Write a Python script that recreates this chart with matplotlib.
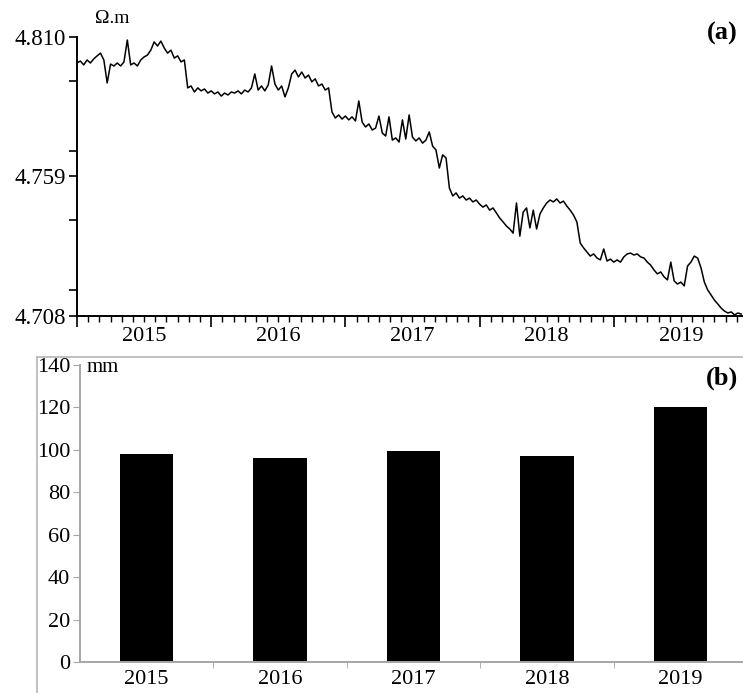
import numpy as np
import matplotlib.pyplot as plt
from matplotlib.lines import Line2D
from matplotlib.ticker import MultipleLocator
import matplotlib.transforms as mtransforms

plt.rcParams['font.family'] = ['Liberation Serif', 'DejaVu Serif']

# (a) apparent resistivity, sampled roughly every 0.025 yr from 2015.0
t_start = 2015.0
t_step = 0.025
resistivity = [
    4.8005, 4.8012, 4.7998, 4.8016, 4.8005, 4.8020, 4.8031, 4.8041, 4.8016, 4.7932,
    4.8001, 4.7994, 4.8005, 4.7994, 4.8009, 4.8089, 4.7998, 4.8005, 4.7994, 4.8016,
    4.8027, 4.8034, 4.8052, 4.8082, 4.8067, 4.8085, 4.8060, 4.8041, 4.8052, 4.8023,
    4.8031, 4.8009, 4.8016, 4.7914, 4.7921, 4.7899, 4.7914, 4.7903, 4.7910, 4.7895,
    4.7903, 4.7892, 4.7899, 4.7884, 4.7895, 4.7888, 4.7899, 4.7895, 4.7903, 4.7892,
    4.7906, 4.7899, 4.7914, 4.7965, 4.7906, 4.7921, 4.7903, 4.7925, 4.7994, 4.7928,
    4.7906, 4.7921, 4.7881, 4.7914, 4.7965, 4.7979, 4.7954, 4.7972, 4.7950, 4.7961,
    4.7936, 4.7947, 4.7921, 4.7928, 4.7906, 4.7914, 4.7826, 4.7804, 4.7815, 4.7800,
    4.7811, 4.7797, 4.7808, 4.7793, 4.7866, 4.7789, 4.7771, 4.7782, 4.7760, 4.7767,
    4.7811, 4.7749, 4.7738, 4.7808, 4.7723, 4.7731, 4.7716, 4.7797, 4.7727, 4.7815,
    4.7734, 4.7720, 4.7731, 4.7712, 4.7723, 4.7753, 4.7701, 4.7687, 4.7621, 4.7669,
    4.7658, 4.7548, 4.7519, 4.7530, 4.7511, 4.7519, 4.7504, 4.7511, 4.7497, 4.7504,
    4.7489, 4.7478, 4.7486, 4.7467, 4.7475, 4.7457, 4.7438, 4.7424, 4.7409, 4.7398,
    4.7383, 4.7493, 4.7372, 4.7460, 4.7475, 4.7402, 4.7467, 4.7398, 4.7453, 4.7475,
    4.7493, 4.7504, 4.7497, 4.7508, 4.7493, 4.7500, 4.7482, 4.7467, 4.7449, 4.7424,
    4.7347, 4.7329, 4.7314, 4.7299, 4.7307, 4.7292, 4.7285, 4.7325, 4.7281, 4.7288,
    4.7277, 4.7285, 4.7277, 4.7296, 4.7307, 4.7310, 4.7303, 4.7307, 4.7296, 4.7292,
    4.7277, 4.7266, 4.7248, 4.7234, 4.7241, 4.7223, 4.7212, 4.7277, 4.7208, 4.7197,
    4.7204, 4.7190, 4.7263, 4.7277, 4.7299, 4.7292, 4.7256, 4.7204, 4.7175, 4.7157,
    4.7138, 4.7124, 4.7109, 4.7098, 4.7091, 4.7095, 4.7084, 4.7091, 4.7087,
]
res_ticks = [4.708, 4.759, 4.810]

# (b) annual rainfall
years = ['2015', '2016', '2017', '2018', '2019']
rainfall = [98, 96, 99.5, 97, 120]

gray = '#a6a6a6'
fig = plt.figure(figsize=(7.43, 6.93), dpi=100)

# ---- panel (a)
ax1 = fig.add_axes([77/743, 1-316/693, 666/743, 279/693])
t = t_start + t_step*np.arange(len(resistivity))
ax1.plot(t, resistivity, color='black', lw=1.1)
ax1.set_xlim(2015.0, 2019.963)
ax1.set_ylim(res_ticks[0], res_ticks[-1])
ax1.set_yticks(res_ticks)
ax1.set_yticklabels(['%.3f' % v for v in res_ticks], fontsize=16.5)
ax1.yaxis.set_minor_locator(MultipleLocator(0.0255))
ax1.set_xticks(np.arange(2015, 2020))
ax1.set_xticklabels([])
ax1.xaxis.set_minor_locator(MultipleLocator(1/12))
for s in ['top', 'right']:
    ax1.spines[s].set_visible(False)
for s in ['left', 'bottom']:
    ax1.spines[s].set_linewidth(1.4)
ax1.tick_params(axis='x', which='major', length=8, width=1.2, direction='out')
ax1.tick_params(axis='x', which='minor', length=4, width=1.0, direction='out')
ax1.tick_params(axis='y', which='both', length=6, width=1.2, direction='out', pad=2)
trans = mtransforms.blended_transform_factory(ax1.transData, ax1.transAxes)
for y in years:
    ax1.text(int(y)+0.5, -0.075, y, transform=trans, ha='center', va='center',
             fontsize=16)
ax1.text(0.027, 1.065, 'Ω.m', transform=ax1.transAxes, fontsize=14,
         ha='left', va='center')
ax1.text(0.992, 1.014, '(a)', transform=ax1.transAxes, fontsize=19,
         fontweight='bold', ha='right', va='center')

# ---- panel (b)
fig.add_artist(Line2D([37/743, 1.0], [1-357/693, 1-357/693],
                      transform=fig.transFigure, color='#b5b5b5', lw=1.2))
fig.add_artist(Line2D([37/743, 37/743], [1-357/693, 0.0],
                      transform=fig.transFigure, color='#b5b5b5', lw=1.2))

ax2 = fig.add_axes([80/743, 1-662/693, 667/743, 297/693])
ax2.bar(np.arange(len(years)), rainfall, width=0.4, color='black')
ax2.set_xlim(-0.5, len(years)-0.5)
ax2.set_ylim(0, 140)
ax2.set_yticks(np.arange(0, 141, 20))
ax2.set_xticks(np.arange(len(years)))
ax2.set_xticklabels(years, fontsize=16)
ax2.set_xticks(np.arange(0.5, len(years)-0.5), minor=True)
ax2.tick_params(axis='y', labelsize=16, length=5, color=gray, pad=2)
ax2.tick_params(axis='x', which='major', length=0, pad=6)
ax2.tick_params(axis='x', which='minor', length=4, color=gray)
for s in ['top', 'right']:
    ax2.spines[s].set_visible(False)
for s in ['left', 'bottom']:
    ax2.spines[s].set_color(gray)
    ax2.spines[s].set_linewidth(1.4)
ax2.text(0.01, 0.99, 'mm', transform=ax2.transAxes, fontsize=15,
         ha='left', va='center')
ax2.text(0.986, 0.956, '(b)', transform=ax2.transAxes, fontsize=19,
         fontweight='bold', ha='right', va='center')

fig.savefig('out.png', dpi=100)
